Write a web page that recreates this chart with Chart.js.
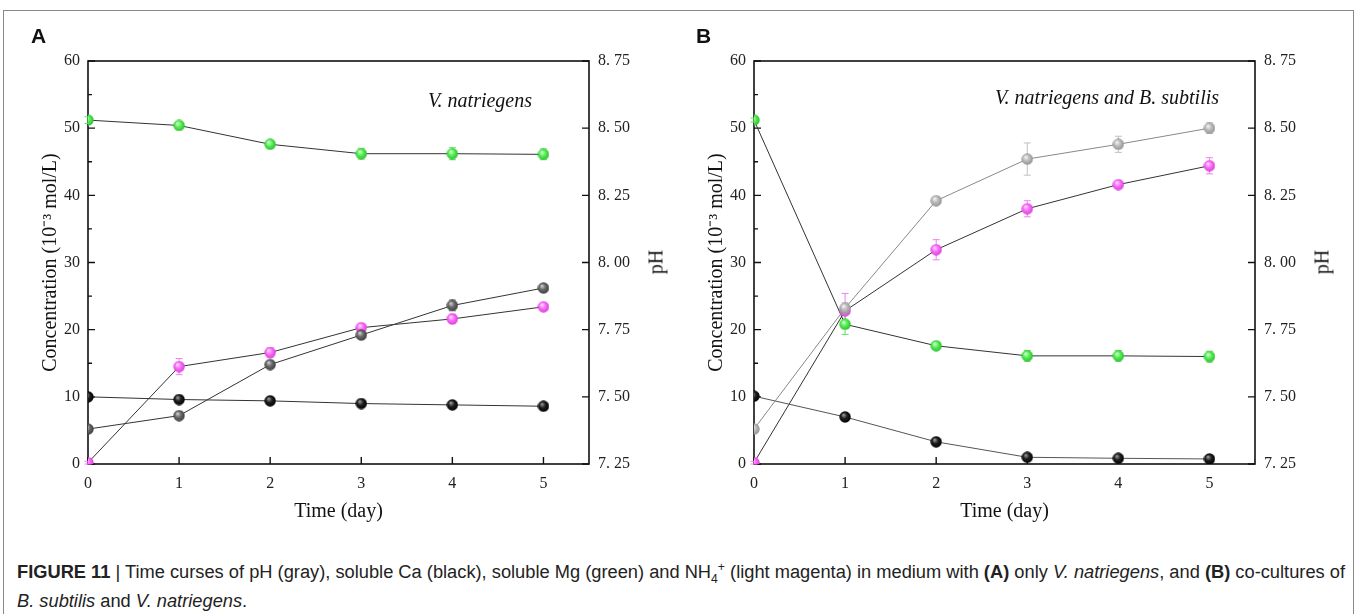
<!DOCTYPE html>
<html>
<head>
<meta charset="utf-8">
<script src="https://cdn.jsdelivr.net/npm/chart.js@4.4.1/dist/chart.umd.min.js"></script>
<style>
  body { margin: 0; background: #fff; width: 1358px; height: 614px; overflow: hidden; position: relative; font-family: 'Liberation Serif', serif; color: #111; }
  #frame { position: absolute; left: 3px; top: 10px; width: 1351px; height: 640px; border: 1px solid #8a8a8a; box-sizing: border-box; }
  canvas { position: absolute; top: 0; }
  #chartA { left: 0; }
  #chartB { left: 666px; }
  .panel { position: absolute; top: 24px; font-family: 'Liberation Sans', Arial, sans-serif; font-weight: bold; font-size: 21px; }
  .note { position: absolute; font-style: italic; font-size: 20px; white-space: nowrap; transform: translate(-50%, -50%); }
  .ph { position: absolute; font-size: 20px; transform: translate(-50%, -50%) rotate(-90deg); }
  #caption { position: absolute; left: 17px; top: 558px; white-space: nowrap; font-family: 'Liberation Sans', Arial, sans-serif; font-size: 18px; line-height: 29px; color: #222; transform-origin: 0 0; }
  #caption div { display: inline-block; }
  #caption sub, #caption sup { font-size: 12px; line-height: 0; }
</style>
</head>
<body>
<div id="frame"></div>
<canvas id="chartA" width="666" height="540"></canvas>
<canvas id="chartB" width="666" height="540"></canvas>
<div class="panel" style="left:31px">A</div>
<div class="panel" style="left:696px">B</div>
<div class="note" style="left:480px; top:100px">V. natriegens</div>
<div class="note" style="left:1107px; top:97px">V. natriegens and B. subtilis</div>
<div class="ph" style="left:656px; top:262px">pH</div>
<div class="ph" style="left:1322px; top:262px">pH</div>
<div id="caption"><div id="capLine"><b>FIGURE 11</b> | Time curses of pH (gray), soluble Ca (black), soluble Mg (green) and NH<sub>4</sub><sup>+</sup> (light magenta) in medium with <b>(A)</b> only <i>V. natriegens</i>, and <b>(B)</b> co-cultures of</div><br><div><i>B. subtilis</i> and <i>V. natriegens</i>.</div></div>
<script>
// sampling days
const days = [0, 1, 2, 3, 4, 5];
const concMinor = [5, 15, 25, 35, 45, 55];

// panel A - V. natriegens only
const caA = [10.0, 9.6, 9.4, 9.0, 8.8, 8.6];
const mgA = [51.2, 50.4, 47.6, 46.2, 46.2, 46.1];
const mgErrA = [0.5, 0.5, 0.5, 0.8, 0.9, 0.8];
const nh4A = [0.2, 14.5, 16.6, 20.3, 21.6, 23.4];
const nh4ErrA = [0.2, 1.2, 0.7, 0.5, 0.7, 0.4];
const phA = [7.38, 7.43, 7.62, 7.73, 7.84, 7.905];
const phErrA = [0, 0, 0, 0.012, 0.02, 0];

// panel B - co-culture with B. subtilis
const caB = [10.1, 7.0, 3.3, 1.0, 0.85, 0.75];
const mgB = [51.2, 20.8, 17.6, 16.1, 16.1, 16.0];
const mgErrB = [0.3, 1.5, 0.4, 0.8, 0.8, 0.8];
const nh4B = [0.2, 22.8, 31.9, 38.0, 41.6, 44.4];
const nh4ErrB = [0.2, 2.6, 1.5, 1.2, 0.5, 1.2];
const phB = [7.38, 7.83, 8.23, 8.385, 8.44, 8.50];
const phErrB = [0, 0.02, 0, 0.06, 0.03, 0.02];

const serif = 'Liberation Serif';

// squeeze caption to the width of the original line
const cap = document.getElementById('caption');
const capW = document.getElementById('capLine').getBoundingClientRect().width;
cap.style.transform = 'scaleX(' + (1328 / capW) + ')';

// shaded ball marker
function sphere(light, base, dark) {
  const c = document.createElement('canvas');
  c.width = c.height = 12;
  const g = c.getContext('2d');
  const grad = g.createRadialGradient(4.3, 3.8, 0.4, 6, 6, 6.1);
  grad.addColorStop(0, light);
  grad.addColorStop(0.45, base);
  grad.addColorStop(1, dark);
  g.fillStyle = grad;
  g.beginPath();
  g.arc(6, 6, 5.7, 0, Math.PI * 2);
  g.fill();
  return c;
}

const ballBlack = sphere('#9a9a9a', '#1e1e1e', '#000');
const ballGreen = sphere('#d8ffd8', '#55f055', '#2cb82c');
const ballPink = sphere('#ffe0ff', '#ff6cff', '#d040d0');
const ballGrayA = sphere('#d0d0d0', '#6a6a6a', '#3a3a3a');
const ballGrayB = sphere('#f4f4f4', '#bdbdbd', '#8e8e8e');

// box around plot + inward ticks
const axesFrame = {
  id: 'axesFrame',
  beforeDatasetsDraw(chart) {
    const { ctx, chartArea: a, scales } = chart;
    ctx.save();
    ctx.strokeStyle = '#111';
    ctx.lineWidth = 1.6;
    ctx.strokeRect(a.left, a.top, a.right - a.left, a.bottom - a.top);
    ctx.lineWidth = 1.4;
    ctx.beginPath();
    scales.x.ticks.forEach(t => {
      const px = scales.x.getPixelForValue(t.value);
      ctx.moveTo(px, a.bottom); ctx.lineTo(px, a.bottom - 7);
    });
    scales.y.ticks.forEach(t => {
      const py = scales.y.getPixelForValue(t.value);
      ctx.moveTo(a.left, py); ctx.lineTo(a.left + 7, py);
    });
    concMinor.forEach(v => {
      const py = scales.y.getPixelForValue(v);
      ctx.moveTo(a.left, py); ctx.lineTo(a.left + 4, py);
    });
    scales.y2.ticks.forEach(t => {
      const py = scales.y2.getPixelForValue(t.value);
      ctx.moveTo(a.right, py); ctx.lineTo(a.right - 7, py);
    });
    ctx.stroke();
    ctx.restore();
  }
};

const errorBars = {
  id: 'errorBars',
  beforeDatasetsDraw(chart) {
    const { ctx } = chart;
    chart.data.datasets.forEach(ds => {
      if (!ds.errors) return;
      const ys = chart.scales[ds.yAxisID];
      ctx.save();
      ctx.strokeStyle = ds.errorColor;
      ctx.lineWidth = 1;
      ctx.beginPath();
      ds.data.forEach((p, j) => {
        const e = ds.errors[j];
        if (!e) return;
        const x = chart.scales.x.getPixelForValue(p.x);
        const top = ys.getPixelForValue(p.y + e);
        const bot = ys.getPixelForValue(p.y - e);
        ctx.moveTo(x, top); ctx.lineTo(x, bot);
        ctx.moveTo(x - 3.5, top); ctx.lineTo(x + 3.5, top);
        ctx.moveTo(x - 3.5, bot); ctx.lineTo(x + 3.5, bot);
      });
      ctx.stroke();
      ctx.restore();
    });
  }
};

function makeChart(id, series) {
  return new Chart(document.getElementById(id), {
    type: 'line',
    data: {
      datasets: series.map(s => ({
        label: s.label,
        data: days.map((d, i) => ({ x: d, y: s.values[i] })),
        errors: s.errors,
        errorColor: s.errColor,
        yAxisID: s.axis,
        borderColor: s.line,
        borderWidth: 1,
        pointStyle: s.marker,
        pointRadius: 6,
        tension: 0,
        fill: false
      }))
    },
    options: {
      responsive: false,
      animation: false,
      events: [],
      layout: { padding: { top: 61 } },
      plugins: { legend: { display: false }, tooltip: { enabled: false } },
      scales: {
        x: {
          type: 'linear', min: 0, max: 5.5,
          afterFit: s => { s.height = 76; },
          grid: { display: false, drawTicks: false },
          border: { display: false },
          ticks: { stepSize: 1, includeBounds: false, padding: 10, color: '#222', font: { family: serif, size: 16 } },
          title: { display: true, text: 'Time (day)', color: '#111', font: { family: serif, size: 20 }, padding: { top: 0, bottom: 16 } }
        },
        y: {
          position: 'left', min: 0, max: 60,
          afterFit: s => { s.width = 88; },
          grid: { display: false, drawTicks: false },
          border: { display: false },
          ticks: { stepSize: 10, padding: 8, color: '#222', font: { family: serif, size: 16 } },
          title: { display: true, text: 'Concentration (10⁻³ mol/L)', color: '#111', font: { family: serif, size: 20 }, padding: { top: 39, bottom: 0 } }
        },
        y2: {
          position: 'right', min: 7.25, max: 8.75,
          afterFit: s => { s.width = 77; },
          grid: { display: false, drawTicks: false },
          border: { display: false },
          ticks: { stepSize: 0.25, padding: 9, color: '#222', font: { family: serif, size: 16 },
            callback: v => v.toFixed(2).replace('.', '. ') }
        }
      }
    },
    plugins: [axesFrame, errorBars]
  });
}

makeChart('chartA', [
  { label: 'pH', values: phA, errors: phErrA, errColor: '#777', axis: 'y2', line: '#333', marker: ballGrayA },
  { label: 'Ca', values: caA, errors: null, errColor: '#333', axis: 'y', line: '#333', marker: ballBlack },
  { label: 'NH4+', values: nh4A, errors: nh4ErrA, errColor: '#f080f0', axis: 'y', line: '#333', marker: ballPink },
  { label: 'Mg', values: mgA, errors: mgErrA, errColor: '#60e060', axis: 'y', line: '#333', marker: ballGreen }
]);

makeChart('chartB', [
  { label: 'pH', values: phB, errors: phErrB, errColor: '#c0c0c0', axis: 'y2', line: '#888', marker: ballGrayB },
  { label: 'Ca', values: caB, errors: null, errColor: '#333', axis: 'y', line: '#555', marker: ballBlack },
  { label: 'NH4+', values: nh4B, errors: nh4ErrB, errColor: '#f080f0', axis: 'y', line: '#333', marker: ballPink },
  { label: 'Mg', values: mgB, errors: mgErrB, errColor: '#60e060', axis: 'y', line: '#333', marker: ballGreen }
]);
</script>
</body>
</html>
